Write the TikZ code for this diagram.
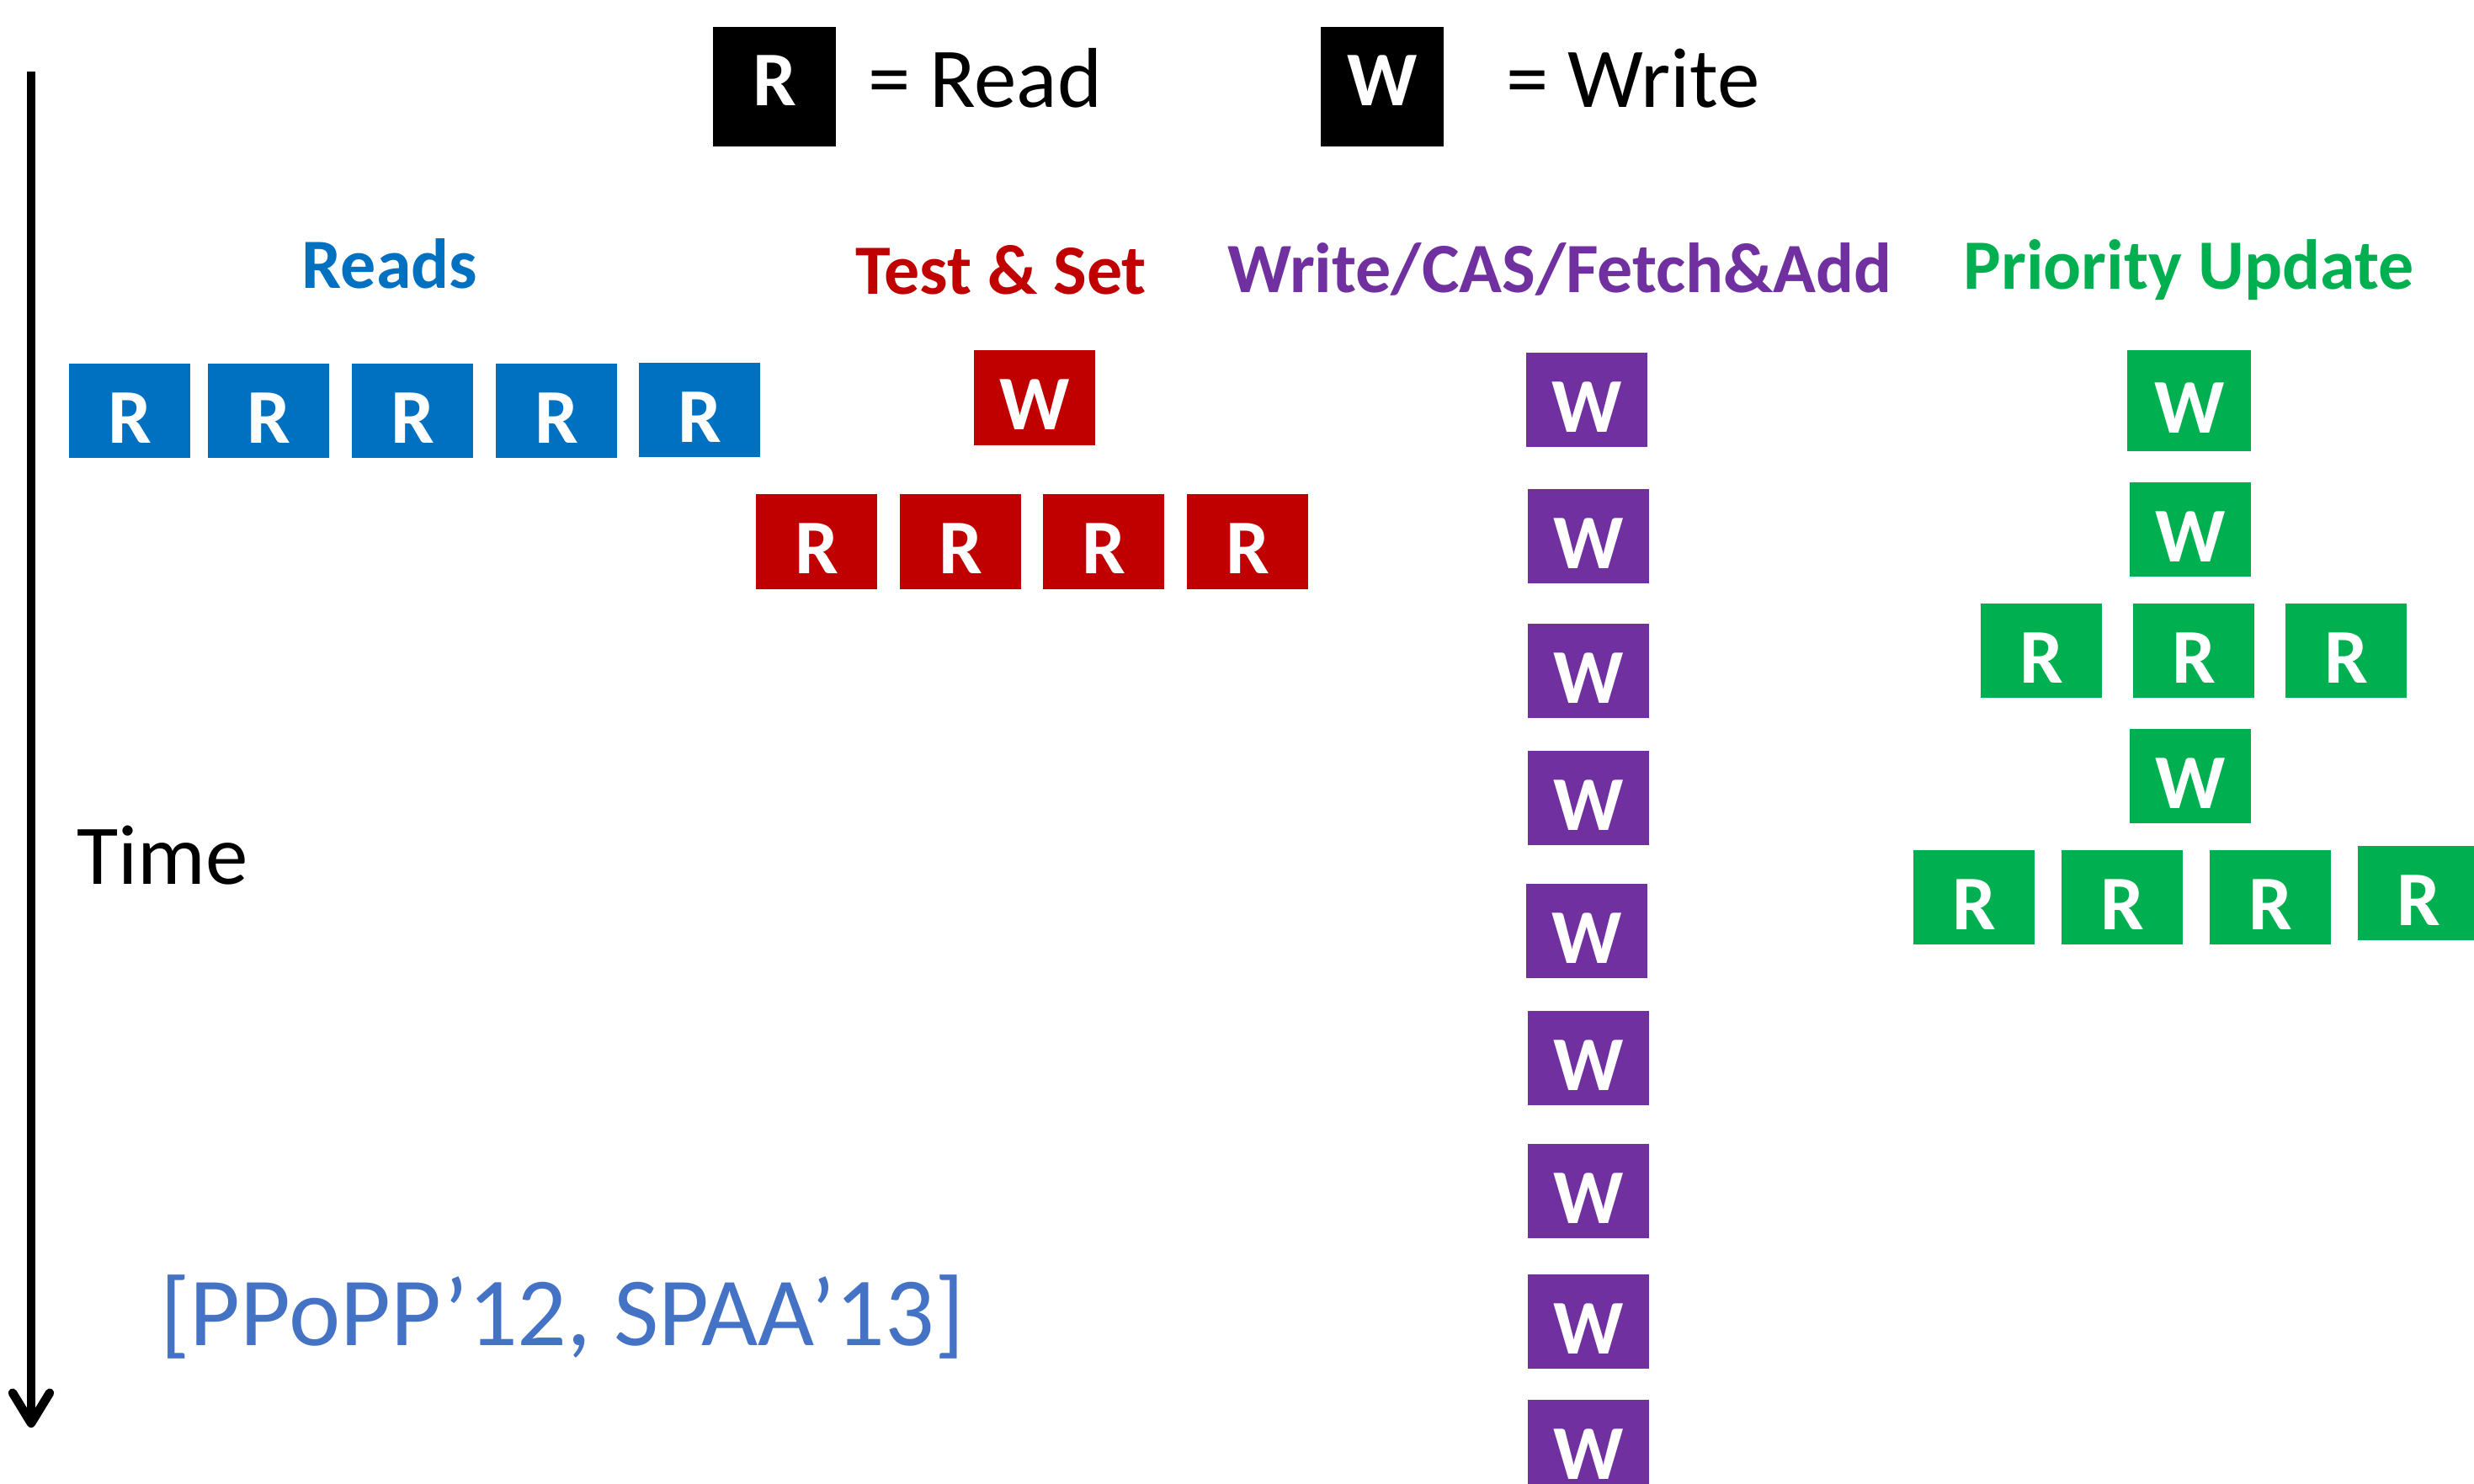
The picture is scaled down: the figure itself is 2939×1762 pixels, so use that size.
\documentclass[tikz,border=0pt]{standalone}
\usepackage{fontspec}
\setmainfont{Carlito}
\usetikzlibrary{arrows.meta}
\definecolor{cblue}{HTML}{0070C0}
\definecolor{cred}{HTML}{C00000}
\definecolor{cpurple}{HTML}{7030A0}
\definecolor{cgreen}{HTML}{00B050}
\definecolor{ccite}{HTML}{4472C4}
\tikzset{
  op/.style={rectangle, inner sep=0pt, anchor=north west,
    minimum width=144pt, minimum height=112pt,
    text=white, font=\fontsize{92}{100}\selectfont\bfseries,
    text height=76pt, text depth=0pt},
  rdb/.style={op, fill=cblue},
  tsw/.style={op, fill=cred},
  tsr/.style={op, fill=cred},
  casw/.style={op, fill=cpurple},
  puop/.style={op, fill=cgreen},
  legbox/.style={op, fill=black, minimum width=146pt, minimum height=142pt,
    text height=44pt},
  header/.style={anchor=base, inner sep=0pt, font=\fontsize{84}{90}\selectfont\bfseries},
  legtext/.style={anchor=base west, inner sep=0pt, font=\fontsize{101}{110}\selectfont},
}
\begin{document}
\begin{tikzpicture}[x=1pt, y=-1pt]
\useasboundingbox (0,0) rectangle (2939,1762);
\clip (0,0) rectangle (2939,1762);

% legend
\node[legbox] (legR) at (847,32) {R};
\node[legtext] (legRt) at (1031,127) {= Read};
\node[legbox] (legW) at (1569,32) {W};
\node[legtext] (legWt) at (1789,127) {= Write};

% time axis
\coordinate (tstart) at (37,85);
\coordinate (tend) at (37,1696);
\draw[line width=10.5pt, -{Straight Barb[length=36pt, width=44pt, line cap=round, line join=round]}] (tstart) -- (tend);
\node[legtext] (time) at (91,1050) {Time};
\node[legtext, text=ccite, font=\fontsize{116}{126}\selectfont] (cite) at (190,1598) {[PPoPP’12, SPAA’13]};

% column headers
\node[header, text=cblue] (hreads) at (463,342) {Reads};
\node[header, text=cred] (hts) at (1189,349) {Test \& Set};
\node[header, text=cpurple] (hcas) at (1853,347) {Write/CAS/Fetch\&Add};
\node[header, text=cgreen] (hpu) at (2600,343) {Priority Update};

% plain reads
\node[rdb] (r1) at (82,432) {R};
\node[rdb] (r2) at (247,432) {R};
\node[rdb] (r3) at (418,432) {R};
\node[rdb] (r4) at (589,432) {R};
\node[rdb] (r5) at (759,431) {R};

% test and set
\node[tsw, minimum height=113pt] (tw) at (1157,416) {W};
\node[tsr, minimum height=113pt] (tr1) at (898,587) {R};
\node[tsr, minimum height=113pt] (tr2) at (1069,587) {R};
\node[tsr, minimum height=113pt] (tr3) at (1239,587) {R};
\node[tsr, minimum height=113pt] (tr4) at (1410,587) {R};

% write / CAS / fetch-and-add
\node[casw] (c1) at (1813,419) {W};
\node[casw] (c2) at (1815,581) {W};
\node[casw] (c3) at (1815,741) {W};
\node[casw] (c4) at (1815,892) {W};
\node[casw] (c5) at (1813,1050) {W};
\node[casw] (c6) at (1815,1201) {W};
\node[casw] (c7) at (1815,1359) {W};
\node[casw] (c8) at (1815,1514) {W};
\node[casw] (c9) at (1815,1663) {W};

% priority update
\node[puop, minimum width=147pt, minimum height=120pt] (p1) at (2527,416) {W};
\node[puop] (p2) at (2530,573) {W};
\node[puop] (pr1) at (2353,717) {R};
\node[puop] (pr2) at (2534,717) {R};
\node[puop] (pr3) at (2715,717) {R};
\node[puop] (p3) at (2530,866) {W};
\node[puop] (pr4) at (2273,1010) {R};
\node[puop] (pr5) at (2449,1010) {R};
\node[puop] (pr6) at (2625,1010) {R};
\node[puop] (pr7) at (2801,1005) {R};
\end{tikzpicture}
\end{document}
